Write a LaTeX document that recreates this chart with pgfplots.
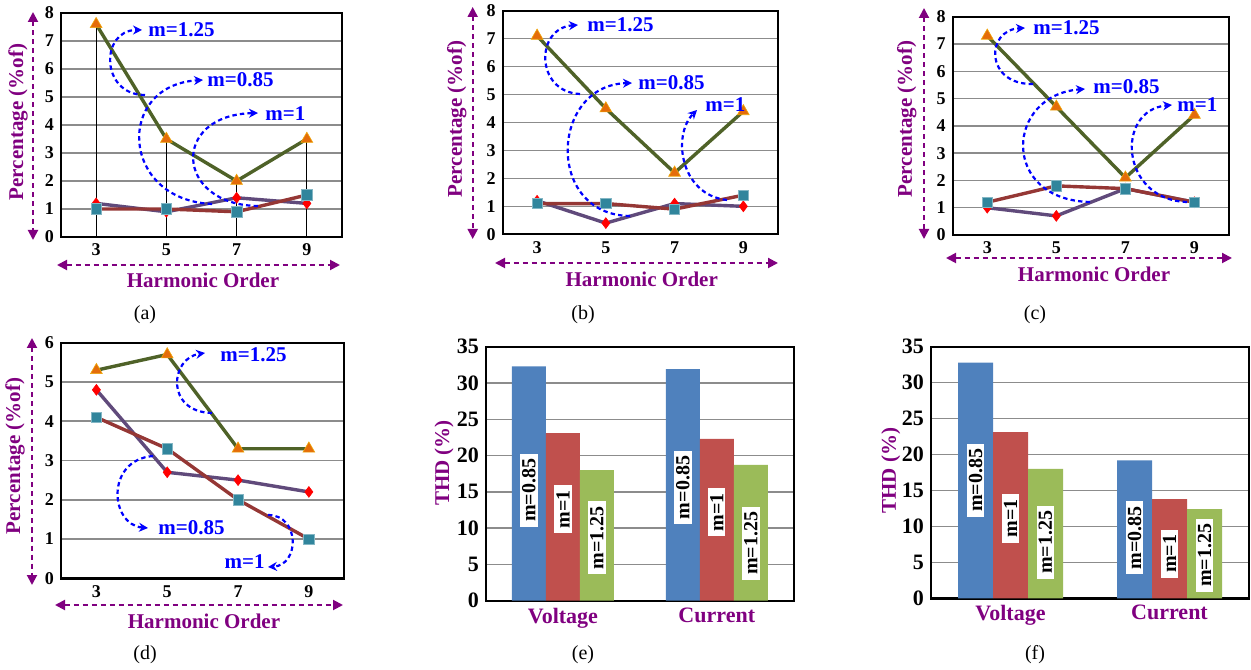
\documentclass[border=0pt]{standalone}
\usepackage{fontspec}
\setmainfont{Liberation Serif}
\usepackage{pgfplots}
\pgfplotsset{compat=1.18}
\usetikzlibrary{arrows.meta}
\definecolor{lgreen}{RGB}{79,98,40}
\definecolor{torange}{RGB}{228,108,10}
\definecolor{lpurple}{RGB}{96,74,123}
\definecolor{lbrown}{RGB}{149,55,53}
\definecolor{steal}{RGB}{49,133,156}
\definecolor{bblue}{RGB}{79,129,189}
\definecolor{bred}{RGB}{192,80,77}
\definecolor{bgreen}{RGB}{155,187,89}
\definecolor{lab}{RGB}{128,0,128}
\definecolor{gridgray}{RGB}{140,140,140}
\pgfplotsset{
  common/.style={
    scale only axis, anchor=south west, ymin=0,
    ymajorgrids,
    major grid style={gridgray, line width=0.75pt},
    axis line style={line width=1.2pt},
    major tick length=0pt,
    /pgf/number format/assume math mode=true,
  },
  linechart/.style={common,
    xmin=2, xmax=10, xtick={3,5,7,9},
    tick label style={font=\bfseries\fontsize{9}{10}\selectfont, text=black},
  },
  barchart/.style={common,
    ymax=35, ytick={0,5,...,35},
    xmin=-0.5, xmax=1.5, xtick={0,1}, xticklabels={Voltage,Current},
    ybar=0pt,
    yticklabel style={font=\bfseries\fontsize{11}{12}\selectfont},
    xticklabel style={font=\bfseries\fontsize{11}{13}\selectfont, text=lab},
  },
  s085/.style={lpurple, line width=1.7pt, mark=diamond*, mark size=2.7pt, mark options={fill=red, draw=red, line width=0.3pt}},
  s1/.style={lbrown, line width=1.7pt, mark=square*, mark size=2.6pt, mark options={fill=steal, draw=steal!60!white, line width=0.3pt}},
  s125/.style={lgreen, line width=1.7pt, mark=triangle*, mark size=3.4pt, mark options={fill=torange, draw=torange!60!yellow, line width=0.3pt}},
}
\tikzset{
  parr/.style={lab, line width=1pt, dash pattern=on 2.5pt off 2pt, {Triangle[length=5pt,width=5pt]}-{Triangle[length=5pt,width=5pt]}},
  ylab/.style={rotate=90, text=lab, font=\bfseries\fontsize{10.5}{12}\selectfont},
  xlab/.style={text=lab, font=\bfseries\fontsize{10.5}{12}\selectfont},
  capt/.style={font=\fontsize{10}{12}\selectfont},
  ann/.style={blue, line width=1.1pt, dash pattern=on 2.2pt off 1.6pt, -{Stealth[length=4.5pt,width=4.5pt]}},
  annt/.style={blue, font=\bfseries\fontsize{10.5}{12}\selectfont, anchor=west, inner sep=0pt},
  barlab/.style={rotate=90, fill=white, text=black, font=\bfseries\fontsize{10}{12}\selectfont, inner xsep=2.5pt, inner ysep=1pt},
}
\begin{document}
\begin{tikzpicture}
\path[use as bounding box] (0pt,0pt) rectangle (625.5pt,334.5pt);

% (a)
\begin{axis}[linechart, at={(30.5pt,216pt)}, width=140.5pt, height=112pt, ymax=8, ytick={0,1,...,8}]
\addplot[ycomb, black, line width=0.5pt, mark=none, forget plot] coordinates {(3,7.6) (5,3.5) (7,2.0) (9,3.5)};
\addplot[s085] coordinates {(3,1.2) (5,0.9) (7,1.4) (9,1.2)};
\addplot[s1] coordinates {(3,1.0) (5,1.0) (7,0.9) (9,1.5)};
\addplot[s125] coordinates {(3,7.6) (5,3.5) (7,2.0) (9,3.5)};
\end{axis}

% (b)
\begin{axis}[linechart, at={(251.35pt,217.35pt)}, width=137.5pt, height=111.8pt, ymax=8, ytick={0,1,...,8}]
\addplot[s085] coordinates {(3,1.2) (5,0.4) (7,1.1) (9,1.0)};
\addplot[s1] coordinates {(3,1.1) (5,1.1) (7,0.9) (9,1.4)};
\addplot[s125] coordinates {(3,7.1) (5,4.5) (7,2.2) (9,4.4)};
\end{axis}

% (c)
\begin{axis}[linechart, at={(476.35pt,217pt)}, width=138.15pt, height=109.15pt, ymax=8, ytick={0,1,...,8}]
\addplot[s085] coordinates {(3,1.0) (5,0.7) (7,1.7) (9,1.2)};
\addplot[s1] coordinates {(3,1.2) (5,1.8) (7,1.7) (9,1.2)};
\addplot[s125] coordinates {(3,7.3) (5,4.7) (7,2.1) (9,4.4)};
\end{axis}

% (d)
\begin{axis}[linechart, at={(30.5pt,45.35pt)}, width=141.65pt, height=117.8pt, ymax=6, ytick={0,1,...,6}]
\addplot[s085] coordinates {(3,4.8) (5,2.7) (7,2.5) (9,2.2)};
\addplot[s1] coordinates {(3,4.1) (5,3.3) (7,2.0) (9,1.0)};
\addplot[s125] coordinates {(3,5.3) (5,5.7) (7,3.3) (9,3.3)};
\end{axis}

% (e)
\begin{axis}[barchart, at={(243pt,34.15pt)}, width=153.85pt, height=127pt, bar width=17pt]
\addplot[fill=bblue, draw=none] coordinates {(0,32.3) (1,31.9)};
\addplot[fill=bred, draw=none] coordinates {(0,23.1) (1,22.3)};
\addplot[fill=bgreen, draw=none] coordinates {(0,18.0) (1,18.7)};
\node[xshift=-17pt, barlab] at (axis cs:0,15.2) {m=0.85};
\node[barlab] at (axis cs:0,12.6) {m=1};
\node[xshift=17pt, barlab] at (axis cs:0,8.7) {m=1.25};
\node[xshift=-17pt, barlab] at (axis cs:1,15.6) {m=0.85};
\node[barlab] at (axis cs:1,12.2) {m=1};
\node[xshift=17pt, barlab] at (axis cs:1,7.9) {m=1.25};
\end{axis}

% (f)
\begin{axis}[barchart, at={(465.5pt,35.35pt)}, width=159pt, height=125.8pt, bar width=17.5pt]
\addplot[fill=bblue, draw=none] coordinates {(0,32.8) (1,19.2)};
\addplot[fill=bred, draw=none] coordinates {(0,23.1) (1,13.8)};
\addplot[fill=bgreen, draw=none] coordinates {(0,18.0) (1,12.4)};
\node[xshift=-17.5pt, barlab] at (axis cs:0,16.4) {m=0.85};
\node[barlab] at (axis cs:0,11.1) {m=1};
\node[xshift=17.5pt, barlab] at (axis cs:0,7.8) {m=1.25};
\node[xshift=-17.5pt, barlab] at (axis cs:1,8.4) {m=0.85};
\node[barlab] at (axis cs:1,6.2) {m=1};
\node[xshift=17.5pt, barlab] at (axis cs:1,6.0) {m=1.25};
\end{axis}

\begin{scope}[x=0.5pt, y=-0.5pt, shift={(0pt,334.5pt)}]
% purple axis arrows
\draw[parr] (33,12) -- (33,240);
\draw[parr] (57,265) -- (340,265);
\draw[parr] (472.7,7) -- (472.7,239);
\draw[parr] (495,263) -- (778,263);
\draw[parr] (924,8) -- (924,239);
\draw[parr] (946,258) -- (1232,258);
\draw[parr] (32,338) -- (32,585);
\draw[parr] (55,605) -- (343,605);
% axis labels
\node[ylab] at (18,122) {Percentage (\%of)};
\node[xlab] at (203,280) {Harmonic Order};
\node[ylab] at (456.7,119) {Percentage (\%of)};
\node[xlab] at (641.7,279) {Harmonic Order};
\node[ylab] at (906.7,119) {Percentage (\%of)};
\node[xlab] at (1094,274) {Harmonic Order};
\node[ylab] at (15,456) {Percentage (\%of)};
\node[xlab] at (204,621.7) {Harmonic Order};
\node[ylab] at (444,463) {THD (\%)};
\node[ylab] at (890.7,470.7) {THD (\%)};
% captions
\node[capt] at (145,315) {(a)};
\node[capt] at (583,315) {(b)};
\node[capt] at (1035,315) {(c)};
\node[capt] at (145,655) {(d)};
\node[capt] at (583,655) {(e)};
\node[capt] at (1035,655) {(f)};
% annotations (a)
\draw[ann] (145,95) .. controls (100,95) and (100,30) .. (142,30);
\node[annt] at (148,30) {m=1.25};
\draw[ann] (212,204) .. controls (120,200) and (115,85) .. (203,80);
\node[annt] at (207,80) {m=0.85};
\draw[ann] (258,206) .. controls (175,205) and (170,115) .. (258,113);
\node[annt] at (265,114) {m=1};
% annotations (b)
\draw[ann] (580,94) .. controls (535,92) and (535,28) .. (578,25);
\node[annt] at (587,25) {m=1.25};
\draw[ann] (630,216) .. controls (545,215) and (550,85) .. (632,83);
\node[annt] at (638,83) {m=0.85};
\draw[ann] (727,200) .. controls (680,195) and (672,135) .. (697,110);
\node[annt] at (705,105) {m=1};
% annotations (c)
\draw[ann] (1033,84) .. controls (985,85) and (985,30) .. (1025,28);
\node[annt] at (1033,28) {m=1.25};
\draw[ann] (1090,202) .. controls (1000,200) and (1005,95) .. (1085,89);
\node[annt] at (1093,87) {m=0.85};
\draw[ann] (1187,202) .. controls (1120,200) and (1115,110) .. (1172,105);
\node[annt] at (1177,105) {m=1};
% annotations (d)
\draw[ann] (212,413) .. controls (165,412) and (170,358) .. (205,353);
\node[annt] at (220,355) {m=1.25};
\draw[ann] (153,456) .. controls (105,460) and (110,525) .. (148,528);
\node[annt] at (158,528) {m=0.85};
\draw[ann] (268,515) .. controls (300,515) and (300,565) .. (268,567);
\node[annt, anchor=east] at (265,562) {m=1};
\end{scope}
\end{tikzpicture}
\end{document}
